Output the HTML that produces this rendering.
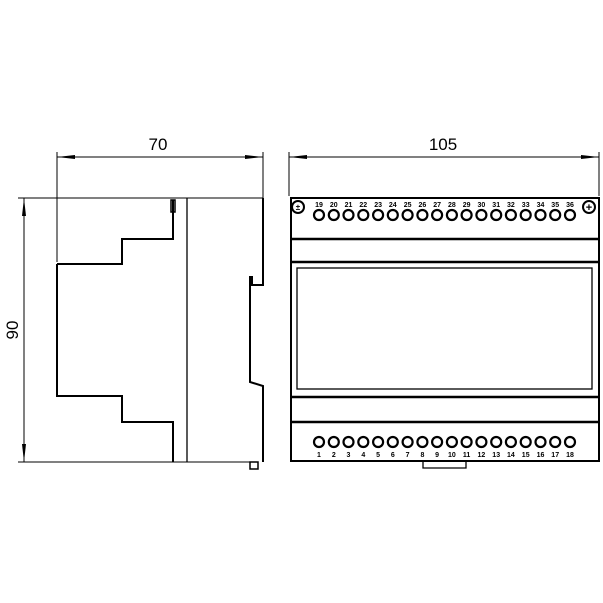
<!DOCTYPE html>
<html><head><style>body{margin:0;background:#fff}svg{display:block}</style></head><body>
<svg width="603" height="603" viewBox="0 0 603 603" xmlns="http://www.w3.org/2000/svg" font-family="Liberation Sans, sans-serif">
<g stroke="#000" fill="none" stroke-width="1">
<!-- dims left -->
<line x1="57" y1="152" x2="57" y2="262"/>
<line x1="263" y1="152" x2="263" y2="198"/>
<line x1="57" y1="157" x2="263" y2="157"/>
<line x1="18" y1="198" x2="263" y2="198"/>
<line x1="18" y1="462" x2="258" y2="462"/>
<line x1="24" y1="198" x2="24" y2="462"/>
</g>
<g fill="#000">
<polygon points="57,157 75,155 75,159"/><polygon points="263,157 245,155 245,159"/>
<polygon points="24,198 22,216 26,216"/><polygon points="24,462 22,444 26,444"/>
<polygon points="289,157 307,155 307,159"/><polygon points="599,157 581,155 581,159"/>
</g>
<text x="158" y="150" font-size="17" text-anchor="middle">70</text>
<text x="443" y="150" font-size="17" text-anchor="middle">105</text>
<text x="0" y="0" font-size="17" text-anchor="middle" transform="translate(18,330) rotate(-90)">90</text>
<g stroke="#000" fill="none" stroke-width="2">
<polyline points="57,264 122,264 122,239 173,239 173,200"/>
<polyline points="57,264 57,396 122,396 122,422 173,422 173,462"/>
<polyline points="263,198 263,285 252,285 252,277 250,277 250,382 263,386 263,462"/>
<rect x="250" y="462" width="8" height="7" stroke-width="1.5"/>
<rect x="171" y="200" width="4" height="12" stroke-width="1.5"/>
</g>
<line x1="187" y1="198" x2="187" y2="462" stroke="#000" stroke-width="1.3"/>
<!-- right view -->
<g stroke="#000" fill="none">
<line x1="289" y1="152" x2="289" y2="196"/>
<line x1="599" y1="152" x2="599" y2="196"/>
<line x1="289" y1="157" x2="599" y2="157"/>
<rect x="291" y="198" width="308" height="263" stroke-width="2"/>
<line x1="291" y1="239" x2="599" y2="239" stroke-width="2.5"/>
<line x1="291" y1="262" x2="599" y2="262" stroke-width="2.5"/>
<rect x="297" y="268" width="295" height="121" stroke-width="1.3"/>
<line x1="291" y1="397" x2="599" y2="397" stroke-width="2.5"/>
<line x1="291" y1="422" x2="599" y2="422" stroke-width="2.5"/>
<polyline points="423,461 423,468 466,468 466,461" stroke-width="1.3"/>
<circle cx="298" cy="207" r="6" stroke-width="2"/>
<circle cx="589" cy="207" r="6" stroke-width="2"/>
</g>
<text x="298" y="210" font-size="8" font-weight="bold" text-anchor="middle">±</text>
<text x="589" y="211" font-size="11" font-weight="bold" text-anchor="middle">+</text>
<g id="t" stroke="#000" fill="none" stroke-width="2.2">
<circle cx="319" cy="215" r="5"/><circle cx="333.8" cy="215" r="5"/><circle cx="348.5" cy="215" r="5"/><circle cx="363.3" cy="215" r="5"/><circle cx="378.1" cy="215" r="5"/><circle cx="392.8" cy="215" r="5"/><circle cx="407.6" cy="215" r="5"/><circle cx="422.4" cy="215" r="5"/><circle cx="437.1" cy="215" r="5"/><circle cx="451.9" cy="215" r="5"/><circle cx="466.6" cy="215" r="5"/><circle cx="481.4" cy="215" r="5"/><circle cx="496.2" cy="215" r="5"/><circle cx="510.9" cy="215" r="5"/><circle cx="525.7" cy="215" r="5"/><circle cx="540.5" cy="215" r="5"/><circle cx="555.2" cy="215" r="5"/><circle cx="570" cy="215" r="5"/>
</g>
<use href="#t" y="227"/>
<g font-size="7" font-weight="bold" text-anchor="middle">
<text x="319" y="207">19</text><text x="333.8" y="207">20</text><text x="348.5" y="207">21</text><text x="363.3" y="207">22</text><text x="378.1" y="207">23</text><text x="392.8" y="207">24</text><text x="407.6" y="207">25</text><text x="422.4" y="207">26</text><text x="437.1" y="207">27</text><text x="451.9" y="207">28</text><text x="466.6" y="207">29</text><text x="481.4" y="207">30</text><text x="496.2" y="207">31</text><text x="510.9" y="207">32</text><text x="525.7" y="207">33</text><text x="540.5" y="207">34</text><text x="555.2" y="207">35</text><text x="570" y="207">36</text>
<text x="319" y="457">1</text><text x="333.8" y="457">2</text><text x="348.5" y="457">3</text><text x="363.3" y="457">4</text><text x="378.1" y="457">5</text><text x="392.8" y="457">6</text><text x="407.6" y="457">7</text><text x="422.4" y="457">8</text><text x="437.1" y="457">9</text><text x="451.9" y="457">10</text><text x="466.6" y="457">11</text><text x="481.4" y="457">12</text><text x="496.2" y="457">13</text><text x="510.9" y="457">14</text><text x="525.7" y="457">15</text><text x="540.5" y="457">16</text><text x="555.2" y="457">17</text><text x="570" y="457">18</text>
</g>
</svg>
</body></html>
